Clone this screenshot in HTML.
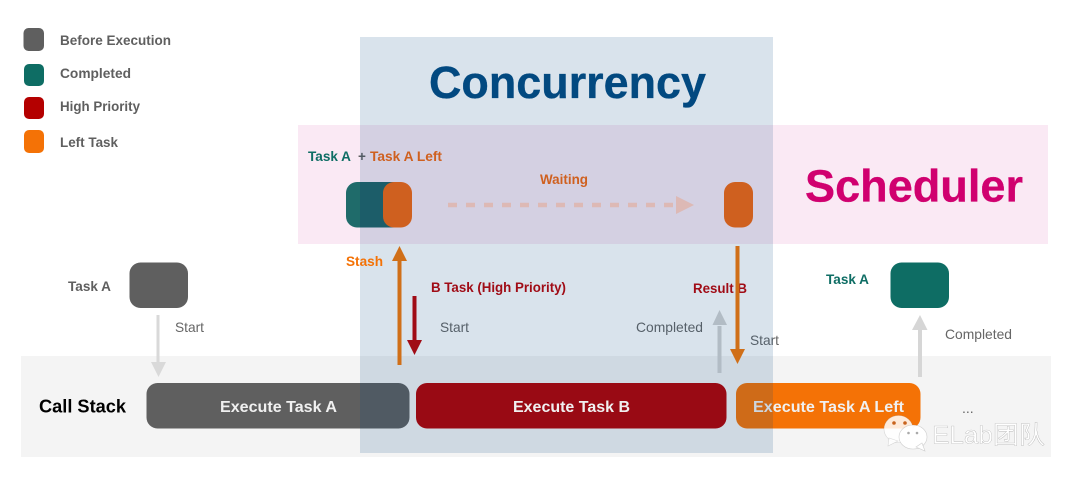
<!DOCTYPE html>
<html>
<head>
<meta charset="utf-8">
<style>
html,body{margin:0;padding:0;background:#fff;}
body{width:1080px;height:482px;overflow:hidden;}
svg{display:block;}
text{font-family:"Liberation Sans","Noto Sans CJK SC",sans-serif;}
.b{font-weight:700;font-size:13.500px;}
.r{font-size:14px;fill:#666;}
.w{font-weight:700;font-size:15.800px;fill:#f0f0f0;}
</style>
</head>
<body>
<svg width="1080" height="482" viewBox="0 0 1080 482" xmlns="http://www.w3.org/2000/svg">
<defs>
<clipPath id="inner"><rect x="360" y="170" width="80" height="70"/></clipPath>
</defs>
<rect width="1080" height="482" fill="#fff"/>
<!-- bands -->
<rect x="21" y="356" width="1030" height="101" fill="#f4f4f4"/>
<rect x="298" y="125" width="750" height="119" fill="#fae9f4"/>

<!-- legend -->
<rect x="23.500" y="28" width="20.500" height="23" rx="5" fill="#5f5f5f"/>
<rect x="24" y="64" width="20" height="22" rx="5" fill="#0e6d64"/>
<rect x="24" y="97" width="20" height="22" rx="5" fill="#b40000"/>
<rect x="24" y="130" width="20" height="23" rx="5" fill="#f47206"/>
<text class="b" x="60" y="45" fill="#5f5f5f" textLength="111" lengthAdjust="spacingAndGlyphs">Before Execution</text>
<text class="b" x="60" y="78" fill="#5f5f5f" textLength="71" lengthAdjust="spacingAndGlyphs">Completed</text>
<text class="b" x="60" y="111" fill="#5f5f5f" textLength="80" lengthAdjust="spacingAndGlyphs">High Priority</text>
<text class="b" x="60" y="147" fill="#5f5f5f" textLength="58" lengthAdjust="spacingAndGlyphs">Left Task</text>

<!-- titles -->
<text x="429" y="98" font-size="45" font-weight="700" fill="#034a80" stroke="#034a80" stroke-width=".3" textLength="277" lengthAdjust="spacingAndGlyphs">Concurrency</text>
<text x="805" y="201.500" font-size="45" font-weight="700" fill="#d0006f" stroke="#d0006f" stroke-width=".3" textLength="218" lengthAdjust="spacingAndGlyphs">Scheduler</text>

<!-- scheduler labels -->
<text class="b" x="308" y="161" fill="#0e6d64" textLength="43" lengthAdjust="spacingAndGlyphs">Task A</text>
<text class="b" x="358" y="161" fill="#5f5f5f">+</text>
<text class="b" x="370" y="161" fill="#f4660f" textLength="72" lengthAdjust="spacingAndGlyphs">Task A Left</text>
<text class="b" x="540" y="184" fill="#f4660f" textLength="48" lengthAdjust="spacingAndGlyphs">Waiting</text>

<!-- scheduler nodes -->
<rect x="346" y="182" width="62" height="45.500" rx="11" fill="#1f6b6a"/>
<rect x="346" y="182" width="62" height="45.500" rx="11" fill="#216265" clip-path="url(#inner)"/>
<rect x="383" y="182" width="29" height="45.500" rx="11" fill="#f4660f"/>
<rect x="724" y="182" width="29" height="45.500" rx="11" fill="#f4660f"/>

<!-- side labels -->
<text class="b" x="68" y="291" fill="#5f5f5f" textLength="43" lengthAdjust="spacingAndGlyphs">Task A</text>
<text class="b" x="826" y="284" fill="#0e6d64" textLength="43" lengthAdjust="spacingAndGlyphs">Task A</text>

<text class="r" x="175" y="332" textLength="29" lengthAdjust="spacingAndGlyphs">Start</text>
<text class="r" x="440" y="332" textLength="29" lengthAdjust="spacingAndGlyphs">Start</text>
<text class="r" x="636" y="332" textLength="67" lengthAdjust="spacingAndGlyphs">Completed</text>
<text class="r" x="750" y="345" textLength="29" lengthAdjust="spacingAndGlyphs">Start</text>
<text class="r" x="945" y="339" textLength="67" lengthAdjust="spacingAndGlyphs">Completed</text>
<text x="39" y="412.500" font-size="18" font-weight="700" fill="#000" textLength="87" lengthAdjust="spacingAndGlyphs">Call Stack</text>
<text class="r" x="962" y="413">...</text>

<!-- top nodes -->
<rect x="129.500" y="262.500" width="58.500" height="45.500" rx="11" fill="#5f5f5f"/>
<rect x="890.500" y="262.500" width="58.500" height="45.500" rx="11" fill="#0e6d64"/>

<!-- gray arrows -->
<rect x="156.500" y="315" width="3" height="47" fill="#d9d9d9"/>
<polygon points="151,362 166,362 158.500,377" fill="#d9d9d9"/>
<rect x="717.500" y="326" width="4" height="47" fill="#d2d2d2"/>
<polygon points="712.500,325 727,325 719.500,310" fill="#d2d2d2"/>
<rect x="918" y="328" width="4" height="49" fill="#d6d6d6"/>
<polygon points="912,330 927.500,330 920,315" fill="#d6d6d6"/>

<!-- bars under overlay -->
<rect x="146.500" y="383" width="263" height="45.500" rx="11" fill="#5f5f5f"/>
<rect x="736" y="383" width="184.500" height="45.500" rx="11" fill="#f47206"/>
<text class="w" x="220" y="412" textLength="117" lengthAdjust="spacingAndGlyphs">Execute Task A</text>
<text class="w" x="753" y="412" textLength="151" lengthAdjust="spacingAndGlyphs">Execute Task A Left</text>

<!-- concurrency overlay -->
<rect x="360" y="37" width="413" height="416" fill="rgb(2,68,128)" fill-opacity=".15"/>

<!-- items above overlay -->
<rect x="416" y="383" width="310.500" height="45.500" rx="11" fill="#990a14"/>
<text class="w" x="513" y="412" fill="#eee" textLength="117" lengthAdjust="spacingAndGlyphs">Execute Task B</text>

<text class="b" x="346" y="266" fill="#f47206" textLength="37" lengthAdjust="spacingAndGlyphs">Stash</text>
<text class="b" x="431" y="292" fill="#a00c16" textLength="135" lengthAdjust="spacingAndGlyphs">B Task (High Priority)</text>
<text class="b" x="693" y="293" fill="#a00c16" textLength="54" lengthAdjust="spacingAndGlyphs">Result B</text>

<!-- waiting arrow -->
<line x1="448" y1="205" x2="675" y2="205" stroke="#ddb9b5" stroke-width="4.500" stroke-dasharray="9 9"/>
<polygon points="676,196 694,205 676,214" fill="#ddb9b5"/>

<!-- orange and red arrows -->
<rect x="397.500" y="258" width="4" height="107" fill="#d06f18"/>
<polygon points="392,261 407,261 399.500,246" fill="#d06f18"/>
<rect x="412.500" y="296" width="4" height="44" fill="#a00c16"/>
<polygon points="407,340 422,340 414.500,355" fill="#a00c16"/>
<rect x="735.500" y="246" width="4" height="104" fill="#d06f18"/>
<polygon points="730,349 745,349 737.500,364" fill="#d06f18"/>

<!-- watermark -->
<g fill="#fff" fill-opacity=".86" stroke="#9a9a9a" stroke-opacity=".35" stroke-width=".6">
<ellipse cx="898.500" cy="429" rx="14.500" ry="13.500"/>
<polygon points="889,438 888,446 898,441"/>
</g>
<circle cx="894" cy="423" r="1.800" fill="#c8641e"/>
<circle cx="905" cy="423" r="1.800" fill="#c8641e"/>
<g fill="#fff" fill-opacity=".96" stroke="#9a9a9a" stroke-opacity=".45" stroke-width=".6">
<ellipse cx="913" cy="437" rx="14" ry="12"/>
<polygon points="916,447 925,451 922,443"/>
</g>
<circle cx="908.500" cy="433" r="1.300" fill="#aaa"/>
<circle cx="917" cy="433" r="1.300" fill="#aaa"/>
<text x="932" y="443.500" font-size="25" fill="#fff" stroke="#a8a8a8" stroke-width=".3" textLength="113" lengthAdjust="spacingAndGlyphs">ELab团队</text>
</svg>
</body>
</html>
